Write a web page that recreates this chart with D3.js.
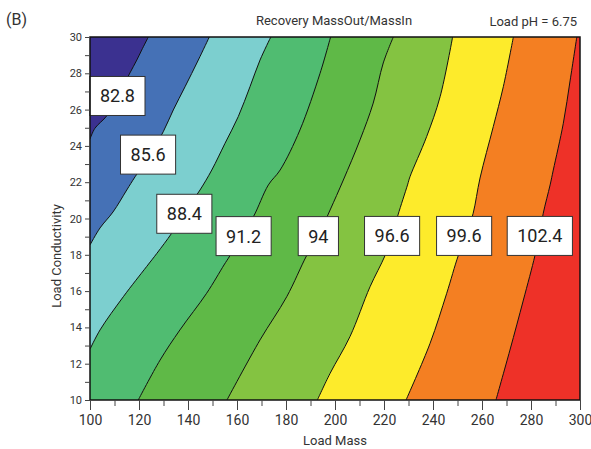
<!DOCTYPE html>
<html>
<head>
<meta charset="utf-8">
<script src="https://cdn.jsdelivr.net/npm/d3@7"></script>
<style>
  body { margin: 0; background: #fff; }
  svg text { font-family: Roboto, "Noto Sans", sans-serif; }
</style>
</head>
<body>
<div class="mainDiv"></div>
<script>
// contour levels (label values) and the band colours, left to right
const levels = [82.8, 85.6, 88.4, 91.2, 94, 96.6, 99.6, 102.4];
const bandColors = ["#3b3190", "#4571b6", "#7ccfcf", "#50bc71", "#5fb947",
                    "#84c341", "#fdeb2b", "#f47f22", "#ee3128"];

// contour lines, [Load Mass, Load Conductivity], from top edge down
const line828 = [[123.8,30],[121.1,29.28],[119.1,28.73],[116.3,28.02],[113.1,27.19],
  [109.4,26.31],[106.8,25.65],[102.0,24.97],[100,24.38]];
const line856 = [[148.7,30],[144.2,28.73],[138.8,27.26],[134.0,25.98],[129.9,24.78],
  [124.5,23.5],[118.4,22.3],[115.0,21.57],[109.4,20.36],[104.1,19.48],[100,18.54]];
const line884 = [[173.8,30],[169.4,28.73],[165.3,27.26],[160.5,25.61],[155.1,24.14],
  [149.7,22.67],[144.9,21.57],[138.8,20.36],[133.3,19.18],[127.3,18.08],[123.1,17.35],
  [113.6,15.69],[104.1,13.86],[100,12.8]];
const line912 = [[198.2,30],[193.9,28.0],[185.7,24.88],[177.6,22.67],[172.8,21.85],
  [166.7,20.1],[161.2,18.93],[157.1,17.95],[154.7,17.44],[147.6,15.88],[136.7,13.86],
  [128.6,12.2],[119.7,10]];
const line94 = [[223.8,30],[219.7,28.57],[215.6,26.36],[210.2,24.33],[203.4,22.12],
  [198.0,20.47],[193.1,19.04],[188.4,17.95],[180.3,15.69],[169.4,13.31],[155.9,10]];
const line966 = [[248.0,30],[242.9,26.71],[237.4,24.51],[230.6,22.3],[229.6,21.85],
  [225.7,20.19],[223.3,19.04],[220.4,17.95],[214.3,16.24],[206.1,13.49],[198.0,11.47],
  [192.8,10]];
const line996 = [[272.8,30],[268.7,27.26],[264.6,25.06],[259.2,22.23],[256.4,20.29],
  [253.5,19.04],[250.3,17.95],[245.6,15.88],[238.8,13.12],[229.0,10]];
const line1024 = [[298.7,30],[296.0,27.63],[293.2,25.25],[289.1,22.67],[287.8,21.85],
  [285.0,20.29],[283.3,19.04],[281.6,17.95],[276.9,15.51],[271.4,12.75],[265.7,10]];
const contourLines = [line828, line856, line884, line912, line94, line966, line996, line1024];

// where each level label sits (centre of its box)
const labelMass = [111.2, 123.7, 138.5, 162.7, 193.2, 223.3, 252.7, 283.6];
const labelCond = [26.75, 23.52, 20.26, 19.03, 19.03, 19.04, 19.04, 19.04];

const xMajor = d3.range(100, 301, 20);
const xMinor = d3.range(110, 300, 20);
const yMajor = d3.range(10, 31, 2);
const yMinor = d3.range(11, 30, 2);

const svg = d3.select('.mainDiv').append('svg')
  .attr('width', 591).attr('height', 449);

const x = d3.scaleLinear().domain([100, 300]).range([90, 580]);
const y = d3.scaleLinear().domain([10, 30]).range([400, 37]);

svg.append('clipPath').attr('id', 'plotClip')
  .append('rect')
  .attr('x', x(100)).attr('y', y(30))
  .attr('width', x(300) - x(100)).attr('height', y(10) - y(30));

const plot = svg.append('g').attr('clip-path', 'url(#plotClip)');

// last band fills everything, the others get painted on top from the right
plot.append('rect')
  .attr('x', x(100)).attr('y', y(30))
  .attr('width', x(300) - x(100)).attr('height', y(10) - y(30))
  .attr('fill', bandColors[bandColors.length - 1]);

const path = d3.line().x(d => x(d[0])).y(d => y(d[1])).curve(d3.curveCatmullRom.alpha(0.5));

// close a line with the left corners of the plot, so it covers the left side
function leftSide(pts){
  const last = pts[pts.length - 1];
  const edge = [];
  if(last[1] <= 10) edge.push([100, 10]);
  edge.push([100, 30]);
  return path(pts) + edge.map(p => 'L' + x(p[0]) + ',' + y(p[1])).join('') + 'Z';
}

for(let i = contourLines.length - 1; i >= 0; i--){
  plot.append('path')
    .attr('d', leftSide(contourLines[i]))
    .attr('fill', bandColors[i]);
}

contourLines.forEach(pts => {
  plot.append('path')
    .attr('d', path(pts))
    .attr('fill', 'none')
    .attr('stroke', '#111')
    .attr('stroke-width', 1);
});

// label boxes
levels.forEach((v, i) => {
  const g = svg.append('g')
    .attr('transform', `translate(${x(labelMass[i])},${y(labelCond[i])})`);
  const box = g.append('rect').attr('fill', '#fff').attr('stroke', '#333').attr('stroke-width', 1);
  const t = g.append('text')
    .attr('text-anchor', 'middle')
    .attr('dy', '0.36em')
    .attr('font-size', 18)
    .attr('fill', '#222')
    .text(v);
  const w = t.node().getComputedTextLength() + 20;
  box.attr('x', -w / 2).attr('y', -19.5).attr('width', w).attr('height', 39);
});

// frame
svg.append('rect')
  .attr('x', x(100)).attr('y', y(30))
  .attr('width', x(300) - x(100)).attr('height', y(10) - y(30))
  .attr('fill', 'none').attr('stroke', '#111').attr('stroke-width', 1.5);

// x axis
const xAxis = svg.append('g').attr('transform', `translate(0,${y(10)})`)
  .call(d3.axisBottom(x).tickValues(xMajor).tickSize(10).tickPadding(5).tickFormat(d3.format('d')));
svg.append('g').attr('transform', `translate(0,${y(10)})`)
  .call(d3.axisBottom(x).tickValues(xMinor).tickSize(6).tickFormat(''));
// y axis
const yAxis = svg.append('g').attr('transform', `translate(${x(100)},0)`)
  .call(d3.axisLeft(y).tickValues(yMajor).tickSize(5).tickPadding(3).tickFormat(d3.format('d')));
svg.append('g').attr('transform', `translate(${x(100)},0)`)
  .call(d3.axisLeft(y).tickValues(yMinor).tickSize(5).tickFormat(''));

svg.selectAll('.domain').remove();
svg.selectAll('.tick line').attr('stroke', '#444');
xAxis.selectAll('text').attr('font-size', 14).attr('fill', '#333').style('font-family', 'Roboto, sans-serif');
yAxis.selectAll('text').attr('font-size', 11).attr('fill', '#333').style('font-family', 'Roboto, sans-serif');

// titles
svg.append('text')
  .attr('x', 335).attr('y', 445)
  .attr('text-anchor', 'middle')
  .attr('font-size', 13).attr('fill', '#333')
  .text('Load Mass');

svg.append('text')
  .attr('transform', 'translate(61,256) rotate(-90)')
  .attr('text-anchor', 'middle')
  .attr('font-size', 13).attr('fill', '#333')
  .text('Load Conductivity');

svg.append('text')
  .attr('x', 334).attr('y', 25)
  .attr('text-anchor', 'middle')
  .attr('font-size', 13).attr('fill', '#333')
  .text('Recovery MassOut/MassIn');

svg.append('text')
  .attr('x', 577).attr('y', 26)
  .attr('text-anchor', 'end')
  .attr('font-size', 13).attr('fill', '#333')
  .text('Load pH = 6.75');

svg.append('text')
  .attr('x', 6).attr('y', 25)
  .attr('font-size', 16).attr('fill', '#333')
  .text('(B)');
</script>
</body>
</html>
